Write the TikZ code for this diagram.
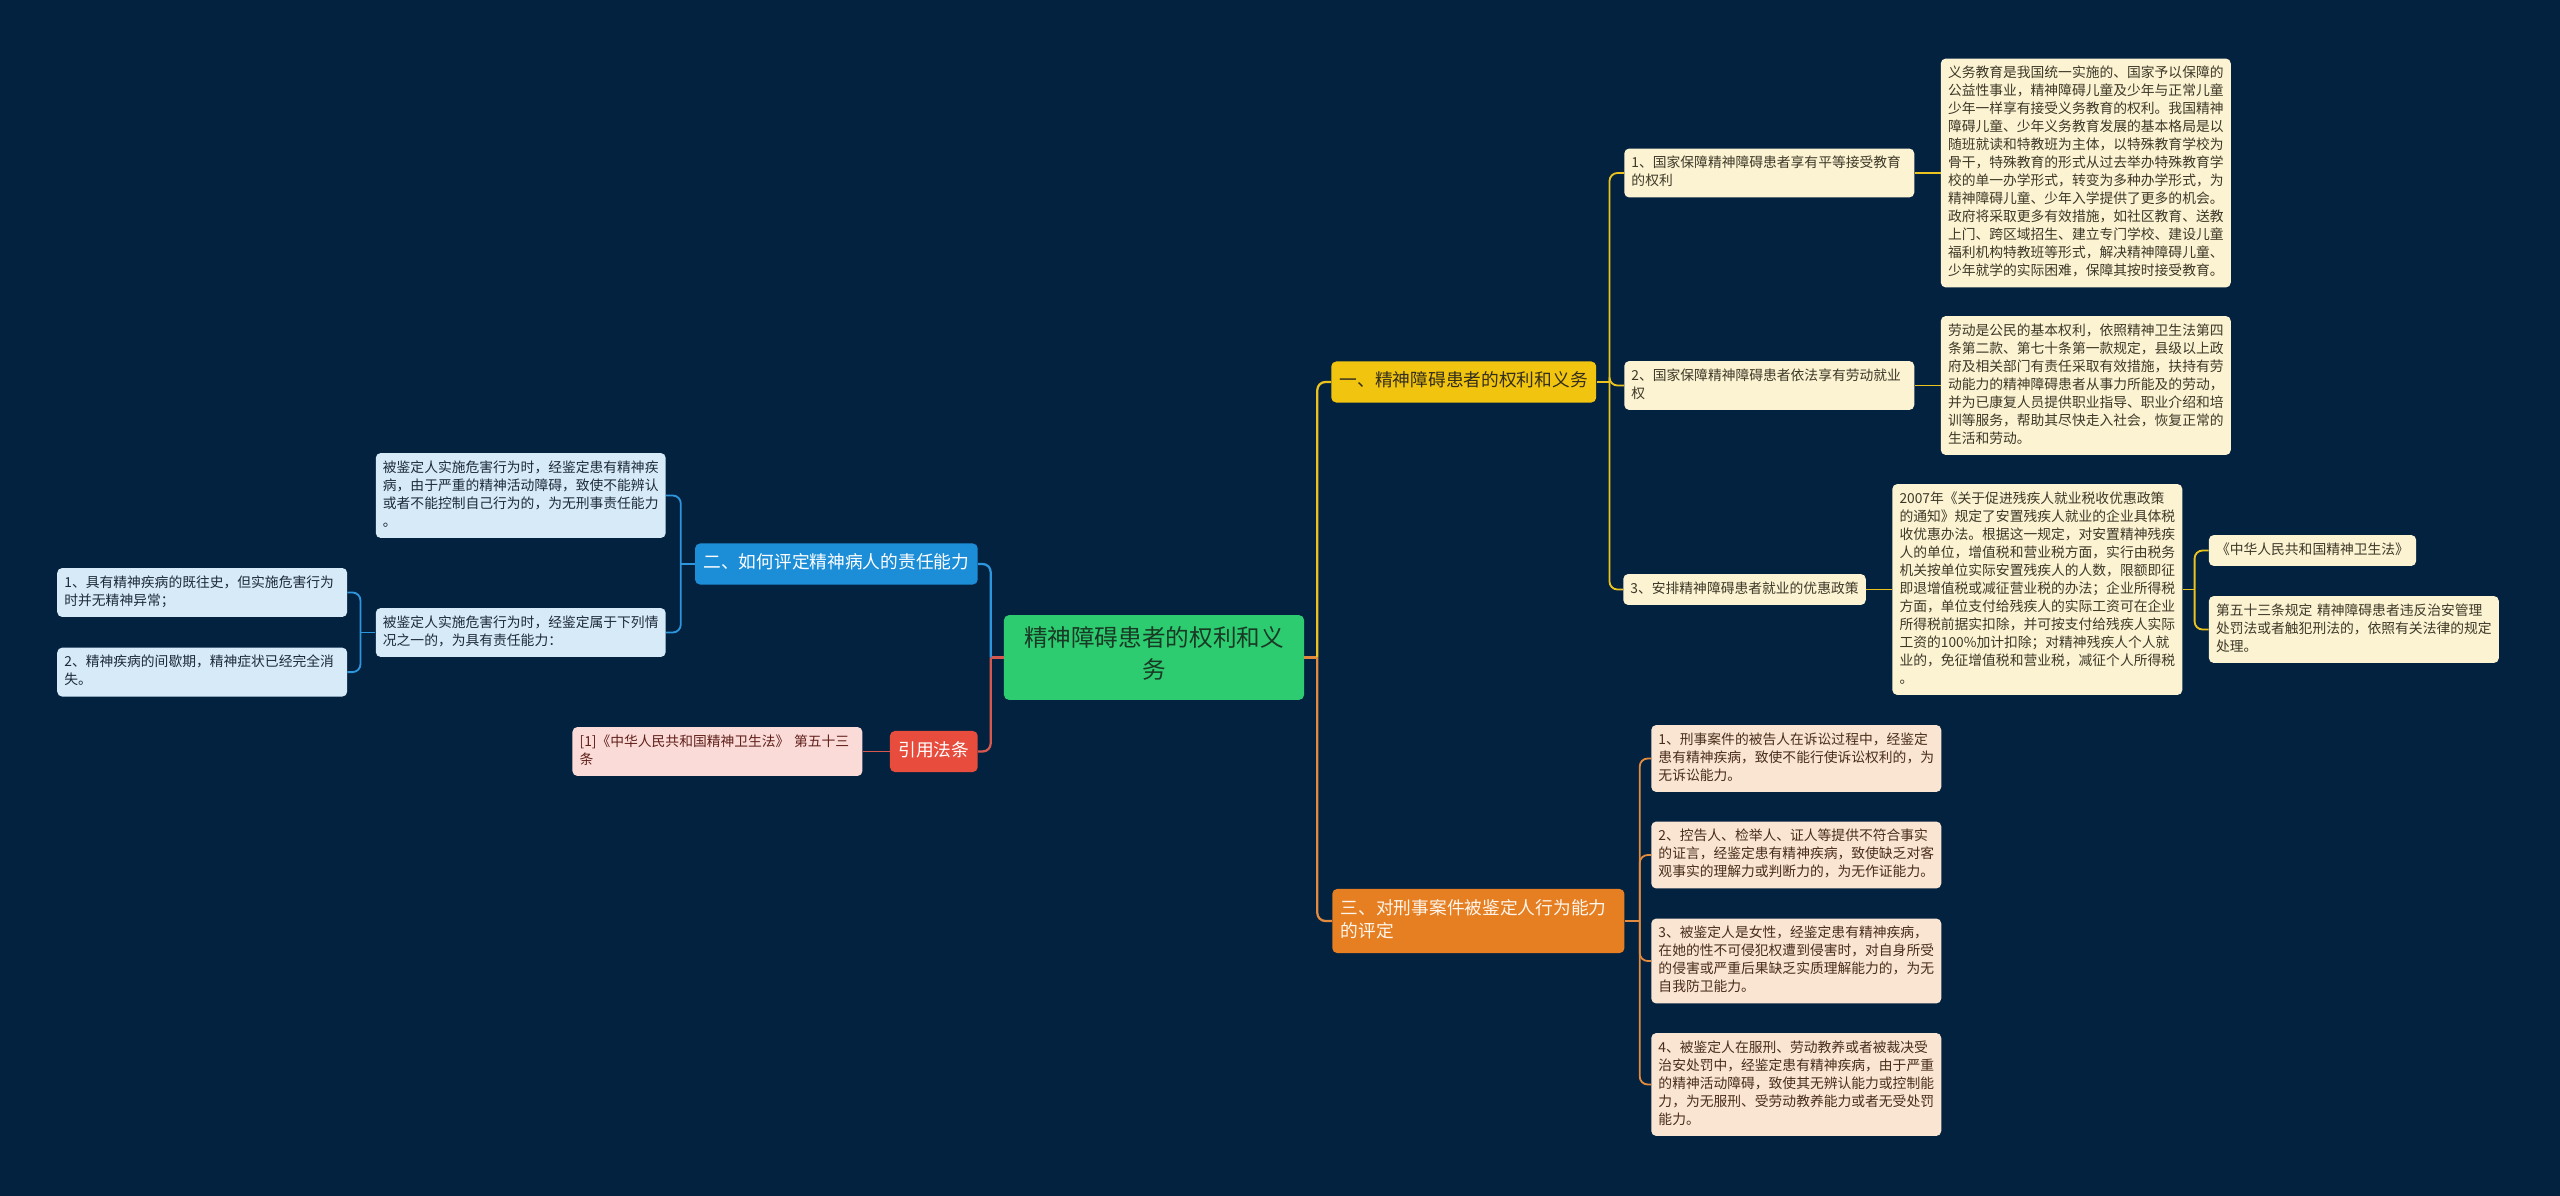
\documentclass[tikz,border=0pt]{standalone}
\usepackage{fontspec}
\setmainfont{Noto Sans CJK SC}
\usetikzlibrary{
  positioning,  % Function "of" (e.g. [right=of x])
  calc,
}
\definecolor{bgnavy}{RGB}{3,34,64}
\definecolor{rootgreen}{RGB}{46,204,113}
\definecolor{roottext}{RGB}{24,58,36}
\definecolor{ybranch}{RGB}{241,196,15}
\definecolor{ytext}{RGB}{52,46,28}
\definecolor{yleafcol}{RGB}{252,243,210}
\definecolor{yleaftext}{RGB}{62,56,40}
\definecolor{yline}{RGB}{236,194,30}
\definecolor{obranch}{RGB}{230,126,34}
\definecolor{otext}{RGB}{255,246,236}
\definecolor{oleafcol}{RGB}{250,229,211}
\definecolor{oleaftext}{RGB}{72,46,26}
\definecolor{oline}{RGB}{226,138,62}
\definecolor{bbranch}{RGB}{28,142,216}
\definecolor{bleafcol}{RGB}{214,234,248}
\definecolor{bleaftext}{RGB}{30,42,56}
\definecolor{bline}{RGB}{46,150,220}
\definecolor{rbranch}{RGB}{231,76,60}
\definecolor{rleafcol}{RGB}{250,219,216}
\definecolor{rleaftext}{RGB}{96,32,26}
\definecolor{rline}{RGB}{214,88,78}
\newcommand{\leafsize}{\fontsize{9.8}{12.8}\selectfont}
\newcommand{\branchsize}{\fontsize{12.6}{16.4}\selectfont}
\newcommand{\rootsize}{\fontsize{16.8}{22.5}\selectfont}
\tikzset{
  topic/.style={
    rounded corners=3.5pt,
    align=left,
    execute at begin node=\strut,
    execute at end node=\strut
  },
  rootbox/.style={
    topic,
    fill=rootgreen,
    text=roottext,
    font=\rootsize,
    align=center,
    minimum width=7.5cm,
    inner xsep=6pt,
    inner ysep=8.4pt
  },
  branchbox/.style={
    topic,
    font=\branchsize,
    inner xsep=6pt,
    inner ysep=6.4pt
  },
  leafbox/.style={
    topic,
    font=\leafsize,
    inner xsep=5.1pt,
    inner ysep=4.6pt
  },
  wide/.style={
    text width=196pt
  },
  yleafbox/.style={leafbox, fill=yleafcol, text=yleaftext},
  oleafbox/.style={leafbox, fill=oleafcol, text=oleaftext},
  bleafbox/.style={leafbox, fill=bleafcol, text=bleaftext},
  rleafbox/.style={leafbox, fill=rleafcol, text=rleaftext},
  mainlink/.style={
    line width=1.6pt,
    rounded corners=5.7pt
  },
  sublink/.style={
    line width=1.3pt,
    rounded corners=5.7pt
  }
}

\begin{document}
\begin{tikzpicture}[x=0.025cm,y=-0.025cm]
% Background
\fill[bgnavy] (0,0) rectangle (2560,1196);
% Root
\node[rootbox] (root) at (1154,657.5) {精神障碍患者的权利和义\\务};
% Branch: rights and duties
\node[branchbox,fill=ybranch,text=ytext,anchor=west] (rights) at (1331,382) {一、精神障碍患者的权利和义务};
\node[yleafbox,wide,anchor=west] (edu)    at (1624,173)   {1、国家保障精神障碍患者享有平等接受教育\\的权利};
\node[yleafbox,wide,anchor=west] (work)   at (1624,385.5) {2、国家保障精神障碍患者依法享有劳动就业\\权};
\node[yleafbox,anchor=west]      (policy) at (1623,589.5) {3、安排精神障碍患者就业的优惠政策};
\node[yleafbox,wide] (edutext) [right=0.65cm of edu] {义务教育是我国统一实施的、国家予以保障的\\公益性事业，精神障碍儿童及少年与正常儿童\\少年一样享有接受义务教育的权利。我国精神\\障碍儿童、少年义务教育发展的基本格局是以\\随班就读和特教班为主体，以特殊教育学校为\\骨干，特殊教育的形式从过去举办特殊教育学\\校的单一办学形式，转变为多种办学形式，为\\精神障碍儿童、少年入学提供了更多的机会。\\政府将采取更多有效措施，如社区教育、送教\\上门、跨区域招生、建立专门学校、建设儿童\\福利机构特教班等形式，解决精神障碍儿童、\\少年就学的实际困难，保障其按时接受教育。};
\node[yleafbox,wide] (worktext) [right=0.65cm of work] {劳动是公民的基本权利，依照精神卫生法第四\\条第二款、第七十条第一款规定，县级以上政\\府及相关部门有责任采取有效措施，扶持有劳\\动能力的精神障碍患者从事力所能及的劳动，\\并为已康复人员提供职业指导、职业介绍和培\\训等服务，帮助其尽快走入社会，恢复正常的\\生活和劳动。};
\node[yleafbox,wide] (taxtext) [right=0.65cm of policy] {2007年《关于促进残疾人就业税收优惠政策\\的通知》规定了安置残疾人就业的企业具体税\\收优惠办法。根据这一规定，对安置精神残疾\\人的单位，增值税和营业税方面，实行由税务\\机关按单位实际安置残疾人的人数，限额即征\\即退增值税或减征营业税的办法；企业所得税\\方面，单位支付给残疾人的实际工资可在企业\\所得税前据实扣除，并可按支付给残疾人实际\\工资的100\%加计扣除；对精神残疾人个人就\\业的，免征增值税和营业税，减征个人所得税\\。};
\node[yleafbox,yshift=0.975cm] (law) [right=0.65cm of taxtext] {《中华人民共和国精神卫生法》};
\node[yleafbox,wide,yshift=-1cm] (article) [right=0.65cm of taxtext] {第五十三条规定 精神障碍患者违反治安管理\\处罚法或者触犯刑法的，依照有关法律的规定\\处理。};
% Branch: criminal cases
\node[branchbox,fill=obranch,text=otext,anchor=west,text width=6.88cm] (crime) at (1332,921) {三、对刑事案件被鉴定人行为能力\\的评定};
\node[oleafbox,wide,anchor=west] (suit)    at (1651,758.5)  {1、刑事案件的被告人在诉讼过程中，经鉴定\\患有精神疾病，致使不能行使诉讼权利的，为\\无诉讼能力。};
\node[oleafbox,wide,anchor=west] (witness) at (1651,855)    {2、控告人、检举人、证人等提供不符合事实\\的证言，经鉴定患有精神疾病，致使缺乏对客\\观事实的理解力或判断力的，为无作证能力。};
\node[oleafbox,wide,anchor=west] (defend)  at (1651,961)    {3、被鉴定人是女性，经鉴定患有精神疾病，\\在她的性不可侵犯权遭到侵害时，对自身所受\\的侵害或严重后果缺乏实质理解能力的，为无\\自我防卫能力。};
\node[oleafbox,wide,anchor=west] (serve)   at (1651,1084.5) {4、被鉴定人在服刑、劳动教养或者被裁决受\\治安处罚中，经鉴定患有精神疾病，由于严重\\的精神活动障碍，致使其无辨认能力或控制能\\力，为无服刑、受劳动教养能力或者无受处罚\\能力。};
% Branch: responsibility
\node[branchbox,fill=bbranch,text=white,anchor=east] (assess) at (978,564) {二、如何评定精神病人的责任能力};
\node[bleafbox,wide,anchor=east] (nocap)  at (666,495.5) {被鉴定人实施危害行为时，经鉴定患有精神疾\\病，由于严重的精神活动障碍，致使不能辨认\\或者不能控制自己行为的，为无刑事责任能力\\。};
\node[bleafbox,wide,anchor=east] (hascap) at (666,632.5) {被鉴定人实施危害行为时，经鉴定属于下列情\\况之一的，为具有责任能力：};
\node[bleafbox,wide,yshift=1cm]     (history) [left=0.7cm of hascap] {1、具有精神疾病的既往史，但实施危害行为\\时并无精神异常；};
\node[bleafbox,wide,yshift=-0.99cm] (remit)   [left=0.7cm of hascap] {2、精神疾病的间歇期，精神症状已经完全消\\失。};
% Branch: cited law
\node[branchbox,fill=rbranch,text=white,anchor=east] (cite) at (978,751.5) {引用法条};
\node[rleafbox,wide] (citetext) [left=0.675cm of cite] {[1]《中华人民共和国精神卫生法》 第五十三\\条};

% Links from the root
\draw[mainlink,oline] (root.east) -- ++(13,0) coordinate (rtrunk);
\draw[mainlink,yline] (rtrunk) |- (rights.west);
\draw[mainlink,oline] (rtrunk) |- (crime.west);
\draw[mainlink,rline] (root.west) -- ++(-13,0) coordinate (ltrunk);
\draw[mainlink,bline] (ltrunk) |- (assess.east);
\draw[mainlink,rline] (ltrunk) |- (cite.east);
% Yellow links
\draw[sublink,yline] (rights.east) -- ++(13,0) coordinate (ytrunk);
\foreach \kid in {edu,work,policy}
  \draw[sublink,yline] (ytrunk) |- (\kid.west);
\draw[sublink,yline] (edu.east) -- (edutext.west);
\draw[sublink,yline] (work.east) -- (worktext.west);
\draw[sublink,yline] (policy.east) -- (taxtext.west);
\draw[sublink,yline] (taxtext.east) -- ++(12,0) coordinate (ttrunk);
\draw[sublink,yline] (ttrunk) |- (law.west);
\draw[sublink,yline] (ttrunk) |- (article.west);
% Orange links
\draw[sublink,oline] (crime.east) -- ++(15,0) coordinate (otrunk);
\foreach \kid in {suit,witness,defend,serve}
  \draw[sublink,oline] (otrunk) |- (\kid.west);
% Blue links
\draw[sublink,bline] (assess.west) -- ++(-14,0) coordinate (btrunk);
\draw[sublink,bline] (btrunk) |- (nocap.east);
\draw[sublink,bline] (btrunk) |- (hascap.east);
\draw[sublink,bline] (hascap.west) -- ++(-15,0) coordinate (htrunk);
\draw[sublink,bline] (htrunk) |- (history.east);
\draw[sublink,bline] (htrunk) |- (remit.east);
% Red link
\draw[sublink,rline] (cite.west) -- (citetext.east);
\end{tikzpicture}
\end{document}
